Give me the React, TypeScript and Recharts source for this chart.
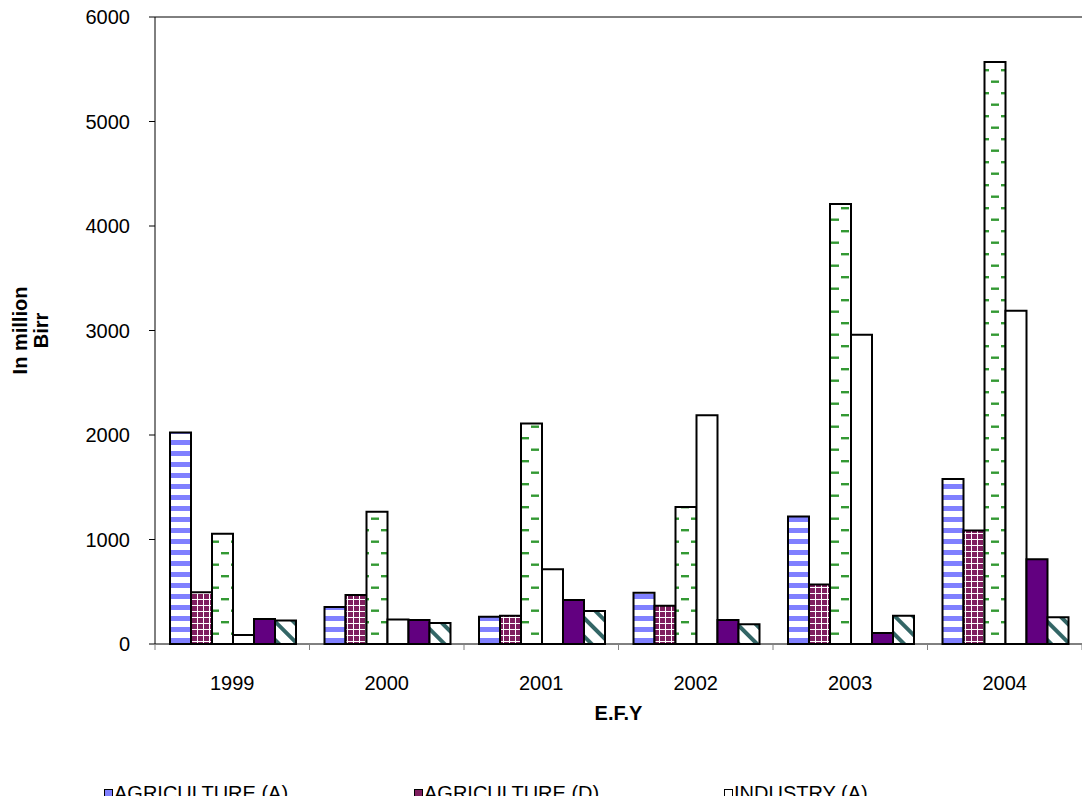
import { Bar, BarChart, Label, ReferenceLine, XAxis, YAxis } from "recharts";

const years = ["1999", "2000", "2001", "2002", "2003", "2004"];
const agricultureA = [2025, 355, 260, 490, 1220, 1580];
const agricultureD = [495, 470, 270, 365, 570, 1085];
const industryA = [1055, 1265, 2110, 1310, 4210, 5570];
const industryD = [85, 235, 715, 2190, 2960, 3190];
const serviceA = [240, 230, 420, 230, 105, 810];
const serviceD = [225, 200, 315, 190, 270, 255];
const yTicks = [0, 1000, 2000, 3000, 4000, 5000, 6000];

const seriesNames = [
  "AGRICULTURE (A)",
  "AGRICULTURE (D)",
  "INDUSTRY (A)",
  "INDUSTRY (D)",
  "SERVICE (A)",
  "SERVICE (D)",
];
const seriesKeys = ["agA", "agD", "indA", "indD", "srvA", "srvD"];
const seriesFills = [
  "url(#pAgA)",
  "url(#pAgD)",
  "url(#pIndA)",
  "#ffffff",
  "#620080",
  "url(#pSrvD)",
];
const legendSwatch = ["#8080ff", "#7f1f5f", "#ffffff", "#ffffff", "#620080", "#336666"];

const data = years.map((year, i) => ({
  year,
  agA: agricultureA[i],
  agD: agricultureD[i],
  indA: industryA[i],
  indD: industryD[i],
  srvA: serviceA[i],
  srvD: serviceD[i],
}));

const FONT = "'Liberation Sans', Arial, sans-serif";

function YearTick(props: any) {
  const { x, y, payload, width, visibleTicksCount, index } = props;
  const band = width / (visibleTicksCount || years.length);
  const left = x - band / 2;
  const isLast = index === (visibleTicksCount || years.length) - 1;
  return (
    <g>
      <line x1={left} x2={left} y1={y} y2={y + 6} stroke="#808080" />
      {isLast && (
        <line x1={x + band / 2} x2={x + band / 2} y1={y} y2={y + 6} stroke="#808080" />
      )}
      <text x={x} y={y + 46} textAnchor="middle" fontSize={20} fontFamily={FONT} fill="#000">
        {payload.value}
      </text>
    </g>
  );
}

function YTitle(props: any) {
  const vb = props.viewBox || { x: 0, y: 0, width: 0, height: 0 };
  const cx = vb.x + 30;
  const cy = vb.y + vb.height / 2;
  return (
    <text
      x={cx}
      y={cy}
      transform={`rotate(-90 ${cx} ${cy})`}
      textAnchor="middle"
      fontSize={20}
      fontWeight="bold"
      fontFamily={FONT}
      fill="#000"
    >
      <tspan x={cx} dy={-3}>In million</tspan>
      <tspan x={cx} dy={21}>Birr</tspan>
    </text>
  );
}

export default function App() {
  return (
    <div
      style={{
        position: "fixed",
        left: 0,
        top: 0,
        width: 1082,
        height: 796,
        overflow: "hidden",
        background: "#fff",
        fontFamily: FONT,
      }}
    >
      <BarChart
        width={1082}
        height={796}
        data={data}
        margin={{ top: 17, right: 0, left: 0, bottom: 72 }}
        barGap={0}
        barCategoryGap={15}
      >
        <defs>
          <pattern id="pAgA" patternUnits="userSpaceOnUse" width={8} height={11}>
            <rect width={8} height={11} fill="#fff" />
            <rect width={8} height={5} fill="#8080ff" />
          </pattern>
          <pattern id="pAgD" patternUnits="userSpaceOnUse" width={6} height={6}>
            <rect width={6} height={6} fill="#7f1f5f" />
            <rect x={5} width={1.2} height={6} fill="#fff" />
            <rect y={5} width={6} height={1.2} fill="#fff" />
          </pattern>
          <pattern id="pIndA" patternUnits="userSpaceOnUse" width={20} height={23}>
            <rect width={20} height={23} fill="#fff" />
            <rect x={1} y={0} width={8} height={2.4} fill="#339933" />
            <rect x={11} y={11.5} width={8} height={2.4} fill="#339933" />
          </pattern>
          <pattern
            id="pSrvD"
            patternUnits="userSpaceOnUse"
            width={13}
            height={13}
            patternTransform="rotate(-45)"
          >
            <rect width={13} height={13} fill="#fff" />
            <rect width={4} height={13} fill="#336666" />
          </pattern>
        </defs>
        <XAxis
          dataKey="year"
          height={80}
          interval={0}
          tickSize={0}
          tickMargin={0}
          tickLine={false}
          axisLine={{ stroke: "#000" }}
          tick={<YearTick />}
        >
          <Label
            value="E.F.Y"
            position="insideBottom"
            offset={4}
            fontSize={20}
            fontWeight="bold"
            fontFamily={FONT}
            fill="#000"
          />
        </XAxis>
        <YAxis
          width={155}
          domain={[0, 6000]}
          ticks={yTicks}
          interval={0}
          tickSize={6}
          tickMargin={19}
          axisLine={{ stroke: "#000" }}
          tickLine={{ stroke: "#000" }}
          tick={{ fontSize: 20, fill: "#000", fontFamily: FONT }}
        >
          <Label content={<YTitle />} />
        </YAxis>
        <ReferenceLine y={6000} stroke="#000" />
        {seriesKeys.map((key, i) => (
          <Bar
            key={key}
            dataKey={key}
            name={seriesNames[i]}
            fill={seriesFills[i]}
            stroke="#000"
            strokeWidth={2}
            isAnimationActive={false}
          />
        ))}
      </BarChart>
      <div
        style={{
          position: "absolute",
          top: 782,
          left: 104,
          display: "grid",
          gridTemplateColumns: "310px 310px 310px",
          fontSize: 20,
          lineHeight: "23px",
          color: "#000",
        }}
      >
        {seriesNames.map((name, i) => (
          <div key={name} style={{ display: "flex", alignItems: "flex-start" }}>
            <span
              style={{
                display: "inline-block",
                width: 7,
                height: 7,
                marginTop: 7,
                marginRight: 1,
                border: "1px solid #000",
                background: legendSwatch[i],
              }}
            />
            <span style={{ whiteSpace: "nowrap" }}>{name}</span>
          </div>
        ))}
      </div>
    </div>
  );
}
